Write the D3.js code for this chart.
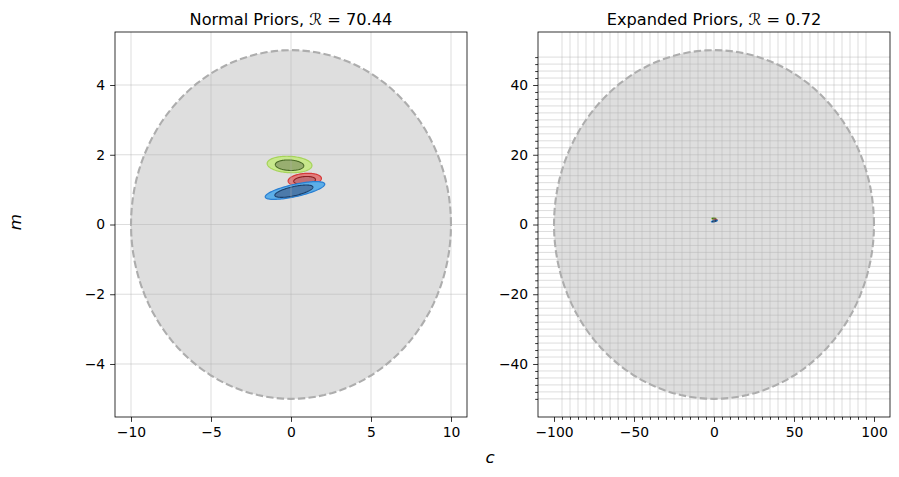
<!DOCTYPE html>
<html><head><meta charset="utf-8">
<script src="https://cdn.jsdelivr.net/npm/d3@7"></script>
<style>body{margin:0;background:#fff}svg{font-family:"DejaVu Sans",sans-serif}</style>
</head><body>
<script>
// ---- data ----
const panelTitles = ["Normal Priors, ", "Expanded Priors, "];
const panelR = ["70.44", "0.72"];
const priorRadiusC = [10, 100];
const priorRadiusM = [5, 50];
const xTicks = [[-10, -5, 0, 5, 10], [-100, -50, 0, 50, 100]];
const yTicks = [[-4, -2, 0, 2, 4], [-40, -20, 0, 20, 40]];
const xMinor = d3.range(-95, 96, 5).filter(v => v % 50 !== 0);
const yMinor = d3.range(-50, 49, 2).filter(v => v % 20 !== 0);
// posterior contours: centerC, centerM, halfWidthC, halfThickM, slope
const contourNames = ["green", "red", "blue"];
const outerC = [-0.09, 0.86, 0.25];
const outerM = [1.72, 1.285, 0.975];
const outerA = [1.40, 1.04, 1.86];
const outerB = [0.235, 0.18, 0.18];
const outerS = [-0.02, 0.035, 0.097];
const innerC = [-0.09, 0.85, 0.18];
const innerM = [1.70, 1.265, 0.955];
const innerA = [0.89, 0.68, 1.19];
const innerB = [0.15, 0.11, 0.134];
const innerS = [-0.02, 0.035, 0.097];
const outerFill = ["#c8e88c", "#e27c7c", "#5caee8"];
const outerStroke = ["#a6d45a", "#d63a3a", "#2a7fd2"];
const innerFill = ["#98ae70", "#c26e74", "#4c7aaa"];
const innerStroke = ["#4a6a28", "#8a2020", "#1c406c"];

const W = 899, H = 477;
const svg = d3.select("body").append("svg").attr("width", W).attr("height", H);
const panels = [{x0: 115, x1: 467}, {x0: 538, x1: 890}];
const axTop = 32, axBottom = 417;

function ellipsePts(cx, cy, a, b, s) {
  return d3.range(0, 121).map(i => {
    const t = i / 120 * 2 * Math.PI;
    const dx = a * Math.cos(t);
    return [cx + dx, cy + s * dx + b * Math.sin(t)];
  });
}

panels.forEach((p, k) => {
  const rc = priorRadiusC[k], rm = priorRadiusM[k];
  const x = d3.scaleLinear().domain([-rc * 1.1, rc * 1.1]).range([p.x0, p.x1]);
  const y = d3.scaleLinear().domain([-rm * 1.104, rm * 1.104]).range([axBottom, axTop]);
  const g = svg.append("g");
  const clipId = "clip" + k;
  g.append("clipPath").attr("id", clipId).append("rect")
    .attr("x", p.x0).attr("y", axTop).attr("width", p.x1 - p.x0).attr("height", axBottom - axTop);
  const plot = g.append("g").attr("clip-path", `url(#${clipId})`);
  const line = d3.line().x(d => x(d[0])).y(d => y(d[1])).curve(d3.curveLinearClosed);

  plot.append("path").attr("d", line(ellipsePts(0, 0, rc, rm, 0)))
    .attr("fill", "#dedede").attr("stroke", "#adadad").attr("stroke-width", 2.1)
    .attr("stroke-dasharray", "7.4,3.2");

  contourNames.forEach((n, i) => {
    plot.append("path").attr("d", line(ellipsePts(outerC[i], outerM[i], outerA[i], outerB[i], outerS[i])))
      .attr("fill", outerFill[i]).attr("stroke", outerStroke[i]).attr("stroke-width", 1.2);
    plot.append("path").attr("d", line(ellipsePts(innerC[i], innerM[i], innerA[i], innerB[i], innerS[i])))
      .attr("fill", innerFill[i]).attr("stroke", innerStroke[i]).attr("stroke-width", 1.1);
  });

  const gx = k === 0 ? xTicks[0] : xMinor.concat(xTicks[1].filter(v => Math.abs(v) < 100));
  const gy = k === 0 ? yTicks[0] : yMinor.concat(yTicks[1]);
  plot.selectAll(".gx").data(gx).enter().append("line")
    .attr("x1", d => x(d)).attr("x2", d => x(d)).attr("y1", axTop).attr("y2", axBottom)
    .attr("stroke", "#b0b0b0").attr("stroke-opacity", 0.55).attr("stroke-width", 0.8);
  plot.selectAll(".gy").data(gy).enter().append("line")
    .attr("y1", d => y(d)).attr("y2", d => y(d)).attr("x1", p.x0).attr("x2", p.x1)
    .attr("stroke", "#b0b0b0").attr("stroke-opacity", 0.55).attr("stroke-width", 0.8);

  const fmt = d => d < 0 ? "\u2212" + Math.abs(d) : "" + d;
  const xa = g.append("g").attr("transform", `translate(0,${axBottom})`)
    .call(d3.axisBottom(x).tickValues(xTicks[k]).tickFormat(fmt).tickSize(4.9).tickPadding(4.9));
  const ya = g.append("g").attr("transform", `translate(${p.x0},0)`)
    .call(d3.axisLeft(y).tickValues(yTicks[k]).tickFormat(fmt).tickSize(4.9).tickPadding(4.9));
  if (k === 1) {
    g.append("g").attr("transform", `translate(0,${axBottom})`)
      .call(d3.axisBottom(x).tickValues(xMinor).tickFormat("").tickSize(2.8))
      .select(".domain").remove();
    g.append("g").attr("transform", `translate(${p.x0},0)`)
      .call(d3.axisLeft(y).tickValues(yMinor).tickFormat("").tickSize(2.8))
      .select(".domain").remove();
  }
  [xa, ya].forEach(a => {
    a.selectAll("text").attr("font-size", 13.9).attr("fill", "#000").attr("font-family", "DejaVu Sans");
    a.select(".domain").remove();
  });
  g.selectAll(".tick line").attr("stroke", "#000").attr("stroke-width", 0.8);
  g.append("rect").attr("x", p.x0).attr("y", axTop).attr("width", p.x1 - p.x0).attr("height", axBottom - axTop)
    .attr("fill", "none").attr("stroke", "#000").attr("stroke-width", 0.8);

  const t = g.append("text").attr("x", (p.x0 + p.x1) / 2).attr("y", 25)
    .attr("text-anchor", "middle").attr("font-size", 16.2).attr("fill", "#000");
  t.append("tspan").text(panelTitles[k]);
  t.append("tspan").attr("font-style", "italic").text("\u211B");
  t.append("tspan").text(" = " + panelR[k]);
});

svg.append("text").attr("x", 490).attr("y", 463).attr("text-anchor", "middle")
  .attr("font-size", 16.7).attr("font-style", "italic").text("c");
svg.append("text").attr("transform", "translate(21,222) rotate(-90)").attr("text-anchor", "middle")
  .attr("font-size", 16.7).attr("font-style", "italic").text("m");
</script>
</body></html>
